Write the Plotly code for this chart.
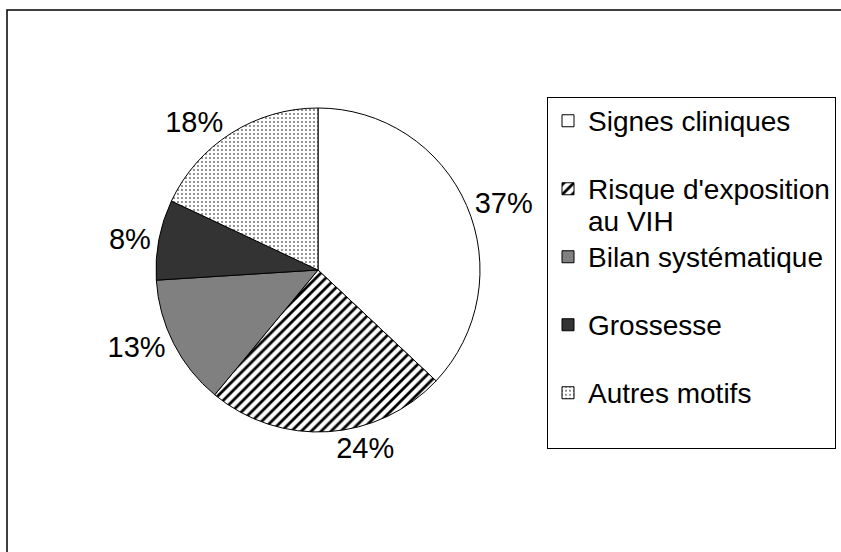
import plotly.graph_objects as go

# ── Données ───────────────────────────────────────────────────────────────────
motifs = ["Signes cliniques", "Risque d'exposition<br>au VIH", "Bilan systématique",
          "Grossesse", "Autres motifs"]
parts = [37, 24, 13, 8, 18]
couleurs = ["white", "white", "#808080", "#333333", "white"]
motifs_trame = ["", "/", "", "", "."]

W, H = 841, 552
POLICE = "Liberation Sans, Arial, sans-serif"

# ── Camembert ────────────────────────────────────────────────────────────────
cx, cy, r = 318, 270, 162

# une ligne vide sous les libellés d'une seule ligne pour espacer la légende
libelles = [m if "<br>" in m else m + "<br> " for m in motifs]
libelles = [f"<span style='font-size:28px'>{l}</span>".replace(
    "<br>", "</span><br><span style='font-size:28px'>") for l in libelles]

fig = go.Figure(go.Pie(
    labels=libelles,
    values=parts,
    sort=False,
    direction="clockwise",
    rotation=0,
    marker=dict(
        colors=couleurs,
        line=dict(color="black", width=1),
        pattern=dict(shape=motifs_trame, fgcolor="black", bgcolor=couleurs,
                     size=[8, 7, 8, 8, 4], solidity=[0.3, 0.4, 0.3, 0.3, 0.12]),
    ),
    texttemplate="%{percent:.0%}",
    textposition="outside",
    textfont=dict(family=POLICE, size=29, color="black"),
    hoverinfo="percent",
    domain=dict(x=[(cx - r) / W, (cx + r) / W],
                y=[1 - (cy + r) / H, 1 - (cy - r) / H]),
))

# cadre du graphique (coupé à droite et en bas)
fig.add_shape(type="rect", xref="paper", yref="paper",
              x0=7 / W, x1=1.02, y0=-0.02, y1=1 - 10 / H,
              line=dict(color="black", width=1.5), layer="below")

fig.update_layout(
    width=W, height=H,
    margin=dict(l=0, r=0, t=0, b=0),
    paper_bgcolor="white",
    plot_bgcolor="white",
    showlegend=True,
    legend=dict(
        x=547 / W, y=1 - 97 / H, xanchor="left", yanchor="top",
        bgcolor="white", bordercolor="black", borderwidth=1,
        font=dict(family=POLICE, size=25, color="black"),
        valign="top",
        traceorder="normal",
    ),
)

fig.write_html("out.html",
               config={"displayModeBar": False},
               post_script="document.body.style.margin='0';"
                           "document.body.style.overflow='hidden';")
